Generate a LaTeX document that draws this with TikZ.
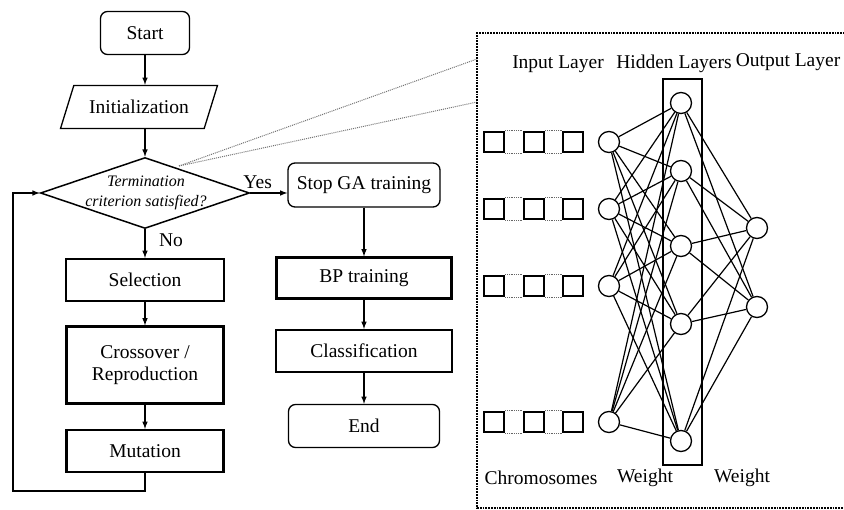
\documentclass[tikz,border=0pt]{standalone}
\usepackage{fontspec}
\setmainfont{Liberation Serif}
\usetikzlibrary{shapes.geometric}

\begin{document}
\begin{tikzpicture}[x=1pt,y=-1pt,
  font=\fontsize{19.5}{22}\selectfont,
  term/.style={draw,rounded corners=7pt,line width=1.3pt,minimum width=151pt,minimum height=43pt},
  proc/.style={draw,line width=2.2pt,minimum width=158pt,minimum height=42pt},
  io/.style={draw,trapezium,trapezium left angle=62,trapezium right angle=118,trapezium stretches=true,line width=1.3pt,minimum width=157pt,minimum height=43pt},
  decision/.style={draw,diamond,line width=1.5pt,minimum width=209pt,minimum height=71pt,inner sep=0pt},
  dectext/.style={align=center,inner sep=0pt,font=\fontsize{16}{20}\selectfont\itshape},
  arr/.style={-latex,line width=1.5pt},
  neuron/.style={draw,circle,line width=1.3pt,minimum size=21pt,inner sep=0pt},
  gene/.style={draw,line width=2.4pt,minimum size=20pt,inner sep=0pt},
  genelink/.style={densely dotted,line width=0.8pt,black!60},
  link/.style={line width=1.2pt},
  zoomline/.style={densely dotted,line width=1pt,black!55}]
\useasboundingbox (0,0) rectangle (844,510);

%flowchart GA
\node[term,minimum width=89pt] (start) at (145,33) {Start};
\node[io] (init) at (139,107) {Initialization};
\node[decision] (dec) at (145,193) {};
\node[dectext] (dectxt) at (146,193) {Termination\\criterion satisfied?};
\node[proc] (sel) at (145,280) {Selection};
\node[proc,minimum height=77pt,minimum width=157pt,align=center] (cross) at (145,365) {Crossover /\\Reproduction};
\node[proc,minimum width=157pt] (mut) at (145,451) {Mutation};
\node[term,minimum width=152pt,minimum height=44pt] (stop) at (364,185) {Stop GA training};
\node[proc,minimum width=175pt,minimum height=41pt] (bp) at (364,278) {BP training};
\node[proc,minimum width=176pt] (cls) at (364,351) {Classification};
\node[term] (end) at (364,426) {End};

\draw[arr] (start) -- (start |- init.north);
\draw[arr] (init.south -| dec.north) -- (dec);
\draw[arr] (dec) -- node[pos=0.4,right,xshift=10pt] {No} (sel);
\draw[arr] (sel) -- (cross);
\draw[arr] (cross) -- (mut);
\draw[arr] (dec.east) -- node[pos=0.2,above] {Yes} (dec.east -| stop.west);
\draw[arr] (stop) -- (bp);
\draw[arr] (bp) -- (cls);
\draw[arr] (cls) -- (end);
%loop back
\coordinate (corner) at (13,491);
\draw[arr] (mut.south) |- (corner) |- (dec.west);

%zoom to network
\coordinate (tip) at (179,166);
\coordinate (z1) at (477,59);
\coordinate (z2) at (477,102);
\draw[zoomline] (tip) -- (z1);
\draw[zoomline] (tip) -- (z2);
\draw[densely dotted,line width=1.8pt] (870,33) -- (477,33) -- (477,508) -- (870,508);

%network
\foreach \n/\y in {1/142,2/209,3/286,4/422} {
  \node[neuron] (in\n) at (609,\y) {};
  \foreach \g/\x in {1/494,2/534,3/573}
    \node[gene] (g\n\g) at (\x,\y) {};
  \draw[genelink] (g\n1.north east) -- (g\n2.north west) (g\n1.south east) -- (g\n2.south west);
  \draw[genelink] (g\n2.north east) -- (g\n3.north west) (g\n2.south east) -- (g\n3.south west);
}
\foreach \n/\y in {1/103,2/171,3/246,4/324,5/441}
  \node[neuron] (hid\n) at (681,\y) {};
\foreach \n/\y in {1/228,2/307}
  \node[neuron] (out\n) at (757,\y) {};
\foreach \i in {1,...,4}
  \foreach \h in {1,...,5}
    \draw[link] (in\i) -- (hid\h);
\foreach \h in {1,...,5}
  \foreach \o in {1,2}
    \draw[link] (hid\h) -- (out\o);
\node[draw,line width=2pt,minimum width=39pt,minimum height=386pt,inner sep=0pt] (hidbox) at (682.5,272) {};

%labels
\node (inlab) at (558,64) {Input Layer};
\node (hidlab) at (674,64) {Hidden Layers};
\node (outlab) at (788,62) {Output Layer};
\node (chrlab) at (541,478) {Chromosomes};
\node (w1lab) at (645,478) {Weight};
\node (w2lab) at (742,478) {Weight};
\end{tikzpicture}
\end{document}
